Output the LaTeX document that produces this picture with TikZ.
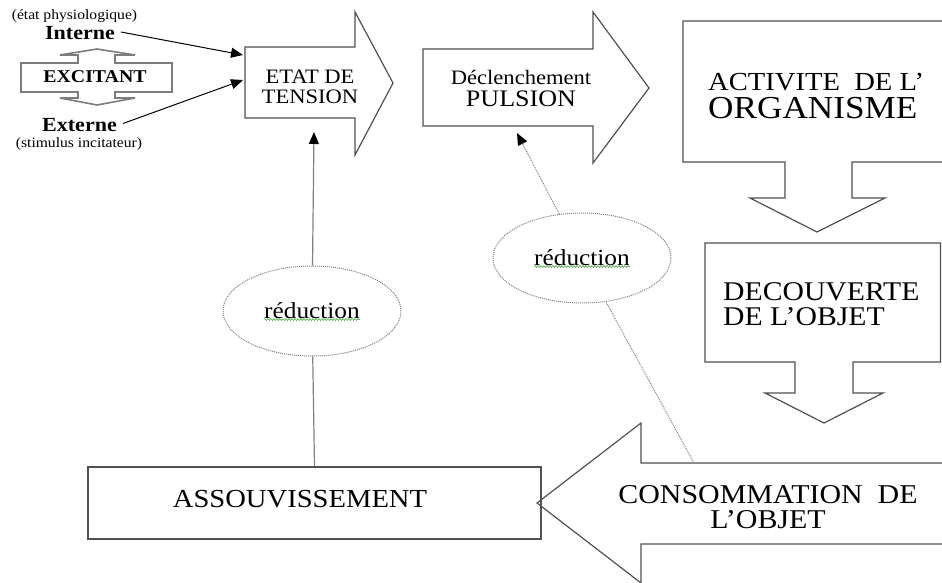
\documentclass[tikz,border=0pt]{standalone}
\usepackage{fontspec}
\setmainfont{Liberation Serif}[FakeStretch=1.1]
\usepackage{tikz}
\usetikzlibrary{positioning,arrows.meta,shapes.geometric,decorations.pathmorphing,calc}
\definecolor{outline}{RGB}{80,80,80}
\definecolor{link}{RGB}{128,128,128}
\definecolor{spell}{RGB}{70,170,70}

\begin{document}
\begin{tikzpicture}[x=1pt,y=-1pt,
    block/.style={draw=outline,line width=1.2pt},
    tag/.style={inner sep=0pt,align=center},
    feedline/.style={line width=1pt,-{Triangle[length=12pt,width=10pt]}},
    linkline/.style={draw=link,line width=1.2pt},
    upline/.style={linkline,-{Triangle[length=12pt,width=10pt,color=black]}},
    dotline/.style={draw=link,line width=1pt,densely dotted},
    bubble/.style={ellipse,draw=link,densely dotted,line width=1pt,fill=white,
        minimum width=178pt,minimum height=90pt,inner sep=0pt,
        font=\fontsize{23}{25}\selectfont},
    squiggle/.style={draw=spell,line width=0.6pt,decorate,
        decoration={snake,amplitude=0.9pt,segment length=3pt}}]

    \useasboundingbox (0,0) rectangle (942,583);
    \clip (0,0) rectangle (942,583);

    % excitant, arrow up and down
    \draw[block,line width=1.6pt,draw=outline!75] (21,63) -- (78,63) -- (78,55) -- (60,55) -- (97,49)
        -- (135,55) -- (115,55) -- (115,63) -- (172,63) -- (172,92) -- (115,92) -- (115,98)
        -- (135,98) -- (97,105) -- (60,98) -- (78,98) -- (78,92) -- (21,92) -- cycle;

    % big arrows
    \draw[block] (245,47) -- (355,47) -- (355,12) -- (393,83) -- (355,155) -- (355,118) -- (245,118) -- cycle;
    \draw[block] (423,49) -- (593,49) -- (593,12) -- (649,88) -- (593,163) -- (593,126) -- (423,126) -- cycle;
    \draw[block] (960,21) -- (683,21) -- (683,162) -- (785,162) -- (785,198) -- (750,198) -- (817,232)
        -- (885,198) -- (852,198) -- (852,162) -- (960,162);
    \draw[block] (705,243) -- (940.5,243) -- (940.5,362) -- (853,362) -- (853,393) -- (883,393) -- (824,423)
        -- (765,393) -- (795,393) -- (795,362) -- (705,362) -- cycle;
    \draw[block] (960,463) -- (641,463) -- (641,423) -- (537,503) -- (641,583) -- (641,544) -- (960,544);

    \node[draw=outline,line width=1.2pt,minimum width=453pt,minimum height=72pt] (assouv) at (314.5,503) {};

    % texts
    \node[tag,font=\fontsize{14.2}{16}\selectfont] (physio) at (74.5,16) {(état physiologique)};
    \node[tag,font=\bfseries\fontsize{20}{22}\selectfont] (interne) at (80,33) {Interne};
    \node[tag,font=\bfseries\fontsize{18}{20}\selectfont] (excitant) at (95,77) {EXCITANT};
    \node[tag,font=\bfseries\fontsize{20}{22}\selectfont] (externe) at (79.5,125.5) {Externe};
    \node[tag,font=\fontsize{14.2}{16}\selectfont] (stimulus) at (79,144) {(stimulus incitateur)};

    \node[tag,font=\fontsize{20.5}{20}\selectfont] (etat) at (310,87) {ETAT DE\\TENSION};
    \node[tag,font=\fontsize{20.5}{22}\selectfont] (pulsion) at (521,88)
        {\fontsize{20.5}{22}\selectfont Déclenchement\\\fontsize{23.7}{22}\selectfont PULSION};
    \node[tag,align=left,anchor=west,font=\fontsize{26}{28}\selectfont] (activite) at (708,96)
        {\fontsize{26}{28}\selectfont ACTIVITE\ \ DE L’\\\fontsize{32}{28}\selectfont ORGANISME};
    \node[tag,align=left,anchor=west,font=\fontsize{27}{25}\selectfont] (decouverte) at (723,304.5)
        {DECOUVERTE\\DE L’OBJET};
    \node[tag,font=\fontsize{27.2}{25}\selectfont] (consommation) at (768,507.5)
        {CONSOMMATION\ \ DE\\L’OBJET};
    \node[tag,font=\fontsize{26}{28}\selectfont] (assouvtxt) at (300,499.5) {ASSOUVISSEMENT};

    \node[bubble] (r1) at (312,311) {réduction};
    \node[bubble] (r2) at (582,258) {réduction};
    \draw[squiggle] ($(r1)+(-48,8.5)$) -- ($(r1)+(48,8.5)$);
    \draw[squiggle] ($(r2)+(-48,8.5)$) -- ($(r2)+(48,8.5)$);

    % arrow ends
    \coordinate (etatA) at (243,55);
    \coordinate (etatB) at (243,80);
    \coordinate (etatC) at (314,132);
    \coordinate (pulsC) at (517,133);
    \coordinate (consA) at (694,463);

    \draw[feedline] ([xshift=6pt,yshift=1pt]interne.east) -- (etatA);
    \draw[feedline] ([xshift=6pt,yshift=2pt]externe.east) -- (etatB);

    \draw[linkline] (assouv.north) -- (r1);
    \draw[upline] (r1) -- (etatC);

    \draw[dotline] (consA) -- (r2);
    \draw[dotline,-{Triangle[length=12pt,width=10pt,color=black]}] (r2) -- (pulsC);

\end{tikzpicture}
\end{document}
